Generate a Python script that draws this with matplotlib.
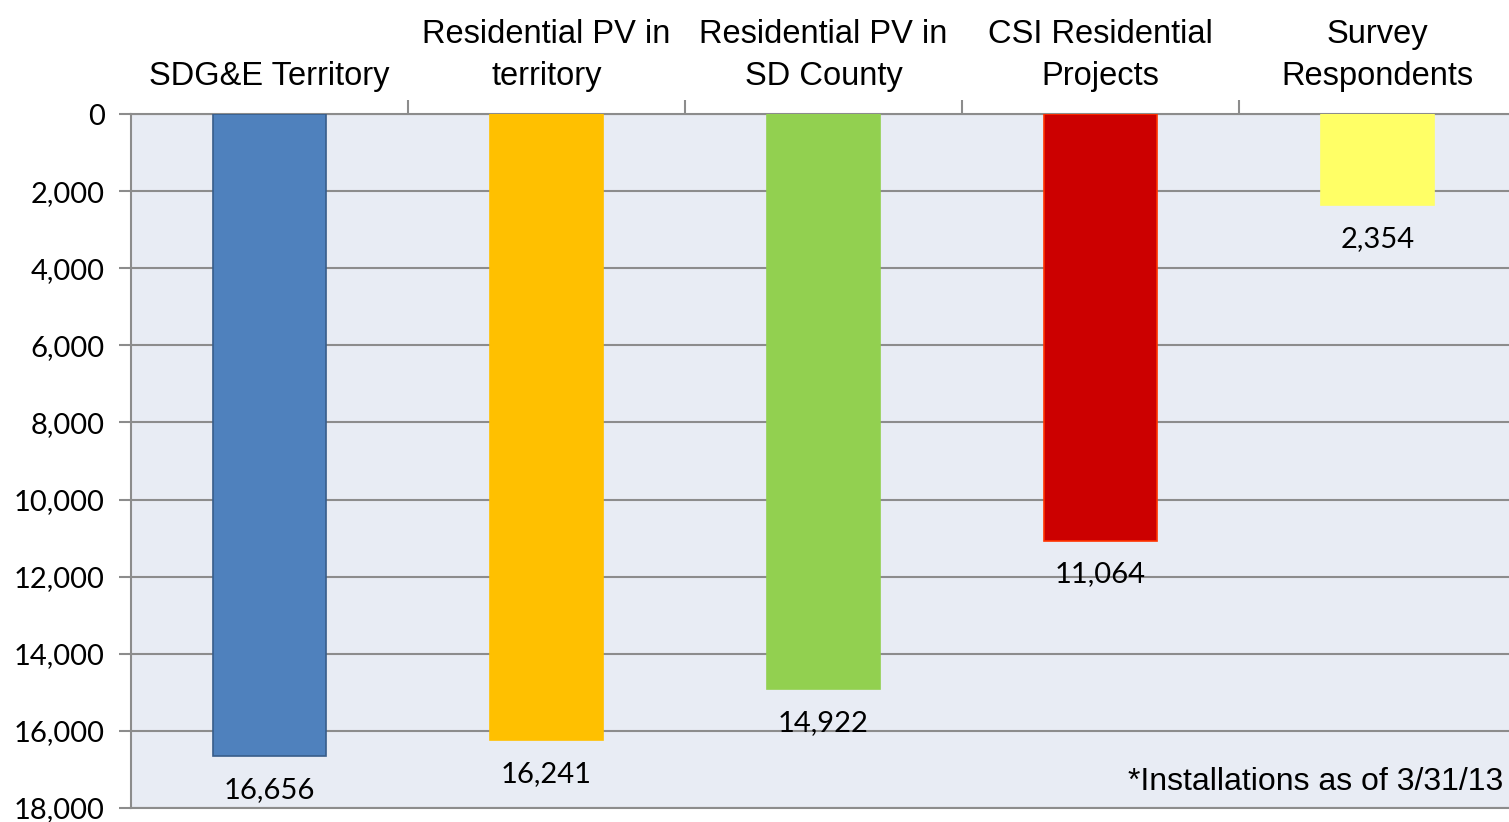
import matplotlib.pyplot as plt
from matplotlib.ticker import FuncFormatter, MultipleLocator
from matplotlib import font_manager

# ------------------------------------------------------------------ #
#  Data
# ------------------------------------------------------------------ #
categories = ["SDG&E Territory", "Residential PV in\nterritory",
              "Residential PV in\nSD County", "CSI Residential\nProjects",
              "Survey\nRespondents"]
counts     = [16656, 16241, 14922, 11064, 2354]
colors     = ["#4F81BD", "#FFC000", "#92D050", "#CC0000", "#FFFF66"]
edges      = ["#385D8A", "#FFC000", "#92D050", "#FF3300", "#FFFF66"]
note       = "*Installations as of 3/31/13"

names = {f.name for f in font_manager.fontManager.ttflist}
cat_font = "Liberation Sans Narrow" if "Liberation Sans Narrow" in names else "Liberation Sans"
num_font = "Lato"

fig = plt.figure(figsize=(15.09, 8.22), dpi=100)
# plot area runs slightly past the right edge, as in the original
ax = fig.add_axes([131 / 1509, 14 / 822, 1385 / 1509, 694 / 822])
ax.set_facecolor("#E8ECF4")

x = range(len(categories))
ax.bar(x, counts, width=0.408, color=colors, edgecolor=edges, linewidth=1.2, zorder=3)

ax.set_xlim(-0.5, len(categories) - 0.5)
ax.set_ylim(18000, 0)
ax.yaxis.set_major_locator(MultipleLocator(2000))
ax.yaxis.set_major_formatter(FuncFormatter(lambda v, p: f"{int(v):,}"))
ax.grid(axis="y", color="#8C8C8C", lw=1.5, zorder=1)

# category labels on top, tick marks between categories
ax.xaxis.tick_top()
ax.set_xticks(list(x))
ax.set_xticklabels(categories, fontsize=23.5, family=cat_font, linespacing=1.45)
ax.tick_params(axis="x", which="major", length=0, pad=16)
ax.set_xticks([i + 0.5 for i in range(len(categories) - 1)], minor=True)
ax.tick_params(axis="x", which="minor", length=10, width=1.5, color="#8C8C8C")
ax.tick_params(axis="y", length=9, width=1.5, color="#8C8C8C", labelsize=21, pad=10)
for lab in ax.get_yticklabels():
    lab.set_family(num_font)

for s in ["top", "left", "bottom"]:
    ax.spines[s].set_color("#8C8C8C")
    ax.spines[s].set_linewidth(1.5)
ax.spines["right"].set_visible(False)

for i, v in enumerate(counts):
    ax.annotate(f"{v:,}", (i, v), xytext=(0, -15), textcoords="offset points",
                ha="center", va="top", fontsize=21, family=num_font, zorder=4)

ax.text(1372 / 1385, 18 / 694, note, transform=ax.transAxes, ha="right",
        va="baseline", fontsize=23, family="Liberation Sans")

fig.savefig("out.png", dpi=100)
